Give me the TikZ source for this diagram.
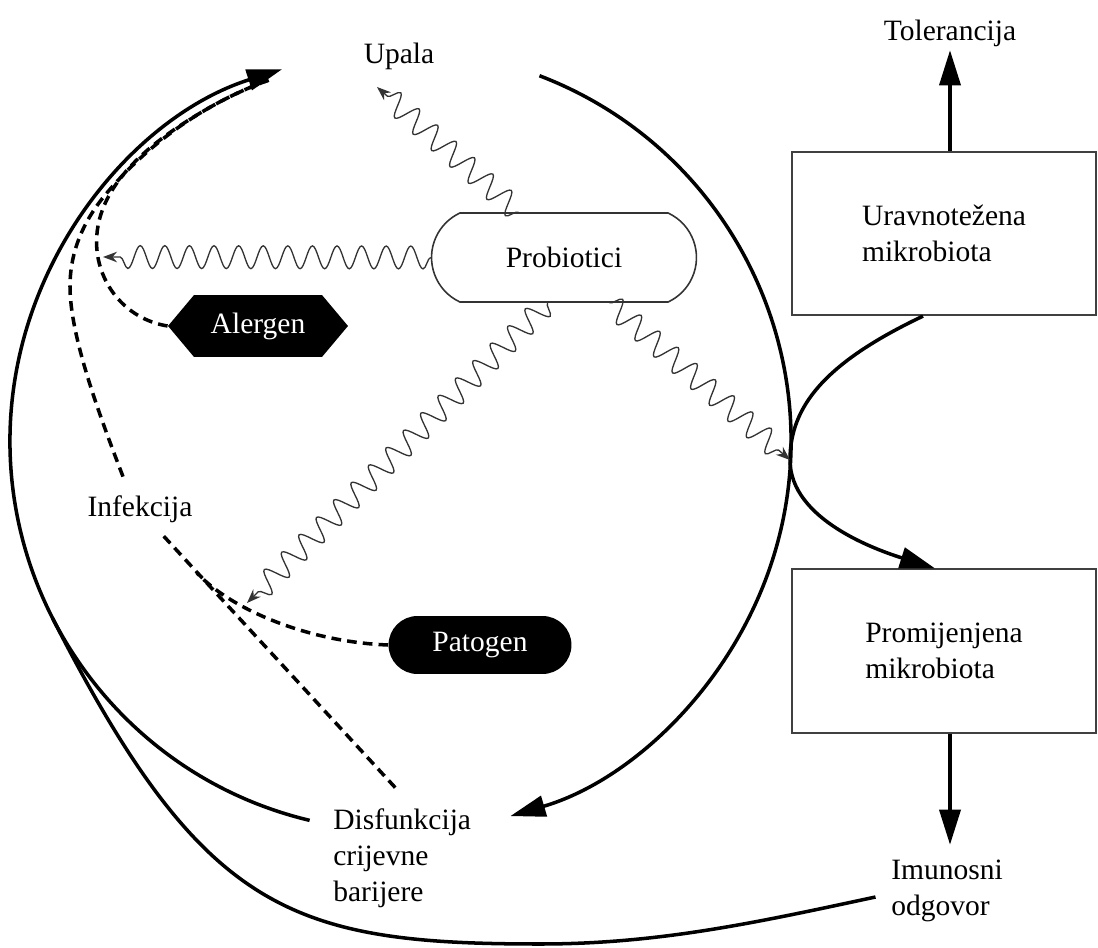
\documentclass[tikz,border=0pt]{standalone}
\usepackage{fontspec}
\setmainfont{Liberation Serif}
\usetikzlibrary{shapes.misc, shapes.symbols, arrows.meta, decorations.pathmorphing}

\begin{document}
\begin{tikzpicture}[x=0.02cm, y=0.02cm,
    txt/.style={font=\fontsize{16.8}{20.5}\selectfont, inner sep=2pt, align=left},
    mbox/.style={txt, draw=black!75, line width=1pt, minimum width=6.08cm, minimum height=3.27cm},
    arrow/.style={->, >={Triangle[length=20pt, width=12pt]}, line width=2pt},
    curve/.style={line width=2pt},
    wave/.style={->, >={Stealth[length=8pt, width=6pt]}, line width=0.75pt, black!80,
        decorate, decoration={snake, amplitude=6.5pt, segment length=14pt, post length=4pt}},
    dashline/.style={line width=2pt, dash pattern=on 5.5pt off 3.5pt}
]
\useasboundingbox (0,0) rectangle (1098,947);

% labels and boxes
\node[txt] (upala) at (399,891) {Upala};
\node[txt] (tol) at (950,914) {Tolerancija};
\node[mbox] (bal) at (944,713.5) {Uravnotežena\\mikrobiota};
\node[mbox] (prom) at (944,296) {Promijenjena\\mikrobiota};
\node[txt, anchor=west] (imun) at (887.5,56) {Imunosni\\odgovor};
\node[txt, anchor=west] (disf) at (329.5,89) {Disfunkcija\\crijevne\\barijere};
\node[txt] (inf) at (140,438) {Infekcija};
\node[txt, rounded rectangle, rounded rectangle arc length=130, draw=black!80, line width=0.9pt,
      minimum width=5.44cm, minimum height=1.78cm] (probio) at (564,689.5) {Probiotici};
\node[txt, signal, signal to=west and east, signal pointer angle=100, fill=black, text=white,
      minimum width=3.6cm, minimum height=1.24cm] (aler) at (258,621) {Alergen};
\node[txt, rounded rectangle, fill=black, text=white,
      minimum width=3.8cm, minimum height=1.16cm] (pat) at (480,302) {Patogen};

% points on the big loop
\coordinate (ctr) at (400,506);
\coordinate (lstart) at ([shift={(256.6:390)}]ctr);
\coordinate (rstart) at ([shift={(69.1:391)}]ctr);
\coordinate (join) at ([shift={(207:390)}]ctr);
\coordinate (m1) at ([shift={(120:384)}]ctr);
\coordinate (m2) at ([shift={(140:384)}]ctr);
\coordinate (bot) at (540,3);
\coordinate (cross) at (790,487);
\coordinate (upalain) at (377,860);
\coordinate (alergin) at (103,690);
\coordinate (patin) at (247,344);
\coordinate (pmerge) at (197,374);

% big loop
\draw[arrow] (lstart) arc[start angle=256.6, end angle=107.6, radius=390];
\draw[arrow] (rstart) arc[start angle=69.1, end angle=-73.6, radius=391];
\draw[curve] ([shift={(-12,-6)}]imun.west) .. controls +(-117,-25) and +(120,0) .. (bot)
    .. controls +(-250,0) and +(150,-294) .. (join);

% right side
\draw[arrow] ([shift={(-21,0)}]bal.south) .. controls +(-99,-47) and +(0,53) .. (cross)
    .. controls +(0,-60) and +(-57,18) .. ([shift={(-9,0)}]prom.north);
\draw[arrow] (tol.south |- bal.north) -- (tol.south);
\draw[arrow, shorten >=6.5pt] (tol.south |- prom.south) -- (tol.south |- imun.north);

% probiotici
\draw[wave] (probio.135) -- (upalain);
\draw[wave] (probio.west) -- (alergin);
\draw[wave] (probio.250) -- (patin);
\draw[wave] (probio.315) -- (cross);

% dashed
\draw[dashline] (aler.west) .. controls +(-43,7) and +(0,-40) .. ++(-71,84)
    .. controls +(0,60) and +(-52,-30) .. (m1) arc[start angle=120, end angle=110, radius=384];
\draw[dashline] ([shift={(-17,15)}]inf.north) .. controls +(-23,60) and +(0,-50) .. ++(-53,190)
    .. controls +(0,35) and +(-22.5,-27) .. (m2) arc[start angle=140, end angle=110, radius=384];
\draw[dashline] ([shift={(-7,17)}]disf.north) -- ([shift={(23,-9)}]inf.south);
\draw[dashline] (pat.west) .. controls +(-80,3) and +(34,-36.5) .. (pmerge);
\end{tikzpicture}
\end{document}
